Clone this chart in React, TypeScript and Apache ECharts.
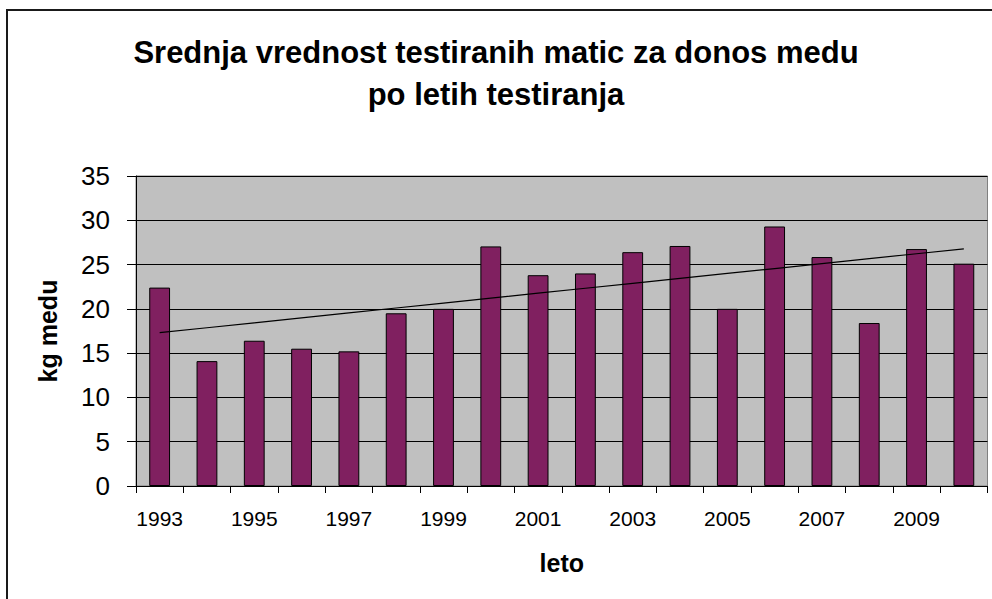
import React, { useEffect, useRef } from "react";
import * as echarts from "echarts";

const years: string[] = [
  "1993", "1994", "1995", "1996", "1997", "1998", "1999", "2000", "2001",
  "2002", "2003", "2004", "2005", "2006", "2007", "2008", "2009", "2010",
];

const honeyYield: number[] = [
  22.4, 14.1, 16.4, 15.5, 15.2, 19.5, 20.0, 27.05, 23.8,
  24.0, 26.4, 27.1, 20.0, 29.3, 25.85, 18.4, 26.75, 25.1,
];

const titleLines: string[] = [
  "Srednja vrednost testiranih matic za donos medu",
  "po letih testiranja",
];

// linear trend line (least squares) of the bar values, as in the spreadsheet
function linearTrend(values: number[]): number[] {
  const n = values.length;
  const mx = (n - 1) / 2;
  const my = values.reduce((a, b) => a + b, 0) / n;
  let sxy = 0;
  let sxx = 0;
  values.forEach((v, i) => {
    sxy += (i - mx) * (v - my);
    sxx += (i - mx) * (i - mx);
  });
  const slope = sxy / sxx;
  const intercept = my - slope * mx;
  return values.map((_, i) => +(intercept + slope * i).toFixed(3));
}

const FONT = "'Liberation Sans', Arial, sans-serif";

export default function App() {
  const ref = useRef<HTMLDivElement>(null);

  useEffect(() => {
    if (!ref.current) return;
    const chart = echarts.init(ref.current, undefined, { renderer: "svg" });
    chart.setOption({
      animation: false,
      backgroundColor: "#ffffff",
      title: {
        text: titleLines.join("\n"),
        left: "center",
        top: 31,
        padding: 0,
        textStyle: {
          fontFamily: FONT,
          fontSize: 31,
          fontWeight: "bold",
          color: "#000000",
          lineHeight: 42,
        },
      },
      graphic: [
        {
          type: "rect",
          shape: { x: 7, y: 10, width: 1000, height: 620 },
          style: { fill: "none", stroke: "#1a1a1a", lineWidth: 2 },
          silent: true,
          z: 100,
        },
      ],
      grid: {
        left: 136,
        right: 4.5,
        top: 176,
        bottom: 113,
        show: true,
        backgroundColor: "#c0c0c0",
        borderColor: "#808080",
        borderWidth: 1,
      },
      xAxis: {
        type: "category",
        data: years,
        boundaryGap: true,
        name: "leto",
        nameLocation: "middle",
        nameGap: 64,
        nameTextStyle: {
          fontFamily: FONT,
          fontSize: 25,
          fontWeight: "bold",
          color: "#000000",
          lineHeight: 25,
        },
        axisLine: { show: true, lineStyle: { color: "#000000", width: 1 } },
        axisTick: {
          show: true,
          interval: 0,
          length: 7,
          inside: false,
          lineStyle: { color: "#000000", width: 1 },
        },
        axisLabel: {
          interval: 1,
          margin: 22,
          fontFamily: FONT,
          fontSize: 21,
          lineHeight: 21,
          color: "#000000",
        },
        splitLine: { show: false },
      },
      yAxis: {
        type: "value",
        min: 0,
        max: 35,
        interval: 5,
        name: "kg medu",
        nameLocation: "middle",
        nameGap: 76,
        nameTextStyle: {
          fontFamily: FONT,
          fontSize: 25,
          fontWeight: "bold",
          color: "#000000",
          lineHeight: 25,
        },
        axisLine: { show: true, lineStyle: { color: "#000000", width: 1 } },
        axisTick: {
          show: true,
          length: 9,
          inside: false,
          lineStyle: { color: "#000000", width: 1 },
        },
        axisLabel: {
          margin: 26,
          fontFamily: FONT,
          fontSize: 26,
          lineHeight: 26,
          color: "#000000",
        },
        splitLine: { show: true, lineStyle: { color: "#000000", width: 1 } },
      },
      series: [
        {
          type: "bar",
          data: honeyYield,
          barCategoryGap: "56%",
          itemStyle: {
            color: "#802060",
            borderColor: "#000000",
            borderWidth: 1,
          },
          z: 2,
        },
        {
          type: "line",
          data: linearTrend(honeyYield),
          symbol: "none",
          lineStyle: { color: "#000000", width: 1.2 },
          z: 3,
        },
      ],
    });
    return () => chart.dispose();
  }, []);

  return (
    <div
      ref={ref}
      style={{
        position: "fixed",
        left: 0,
        top: 0,
        width: 992,
        height: 599,
        background: "#ffffff",
      }}
    />
  );
}
